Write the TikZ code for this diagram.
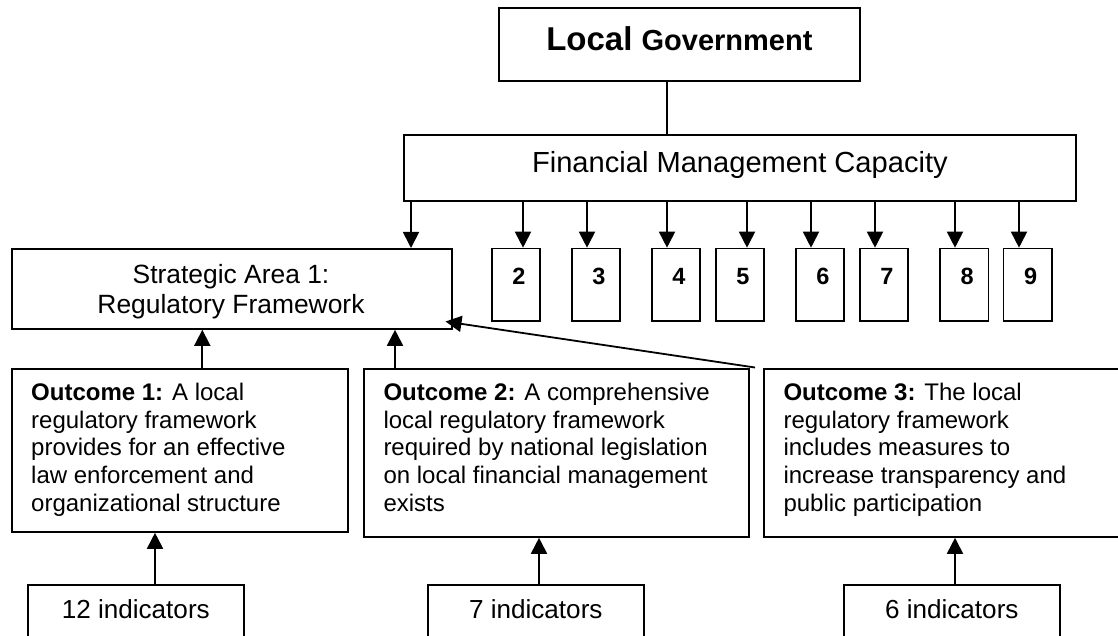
\documentclass[tikz,border=0pt]{standalone}
\usepackage{fontspec}
\setmainfont{Liberation Sans}
\usetikzlibrary{arrows.meta}
\begin{document}
\begin{tikzpicture}[x=1pt,y=-1pt,
  box/.style={draw, line width=1.8pt, inner sep=0pt, anchor=north west},
  conn/.style={line width=1.8pt},
  arr/.style={line width=1.8pt, -{Triangle[length=16pt,width=16pt]}},
  numbox/.style={box, minimum width=48.6pt, minimum height=72.3pt,
    text height=36.15pt, text depth=36.15pt,
    font=\fontsize{23.5}{27}\selectfont\bfseries},
  indbox/.style={box, minimum width=216.4pt, minimum height=70pt,
    text height=34pt, text depth=36pt, font=\fontsize{26.1}{30}\selectfont},
  txt/.style={inner sep=0pt}
]
\useasboundingbox (0,0) rectangle (1118,636);
\clip (0,0) rectangle (1118,636);

% top boxes
\node[box, minimum width=361pt, minimum height=73pt, text height=43pt, text depth=30pt, font=\bfseries]
  (lg) at (498,7) {\fontsize{33}{38}\selectfont Local \fontsize{29}{33}\selectfont Government};
\node[box, minimum width=672pt, minimum height=66pt, text height=38pt, text depth=28pt, font=\fontsize{29.1}{33}\selectfont]
  (fin) at (403,134) {Financial Management Capacity};

% strategic area
\node[box, minimum width=440pt, minimum height=80pt] (sa) at (11,248) {};
\node[txt, anchor=base] (satext) at (231,283)
  {\parbox[t]{420pt}{\centering\fontsize{26.4}{30.4}\selectfont Strategic Area 1:\\Regulatory Framework}};

% numbered boxes
\node[numbox] (b2) at (490.7,247.7) {\hspace*{6pt}2};
\node[numbox] (b3) at (570.7,247.7) {\hspace*{6pt}3};
\node[numbox] (b4) at (650.7,247.7) {\hspace*{6pt}4};
\node[numbox] (b5) at (714.7,247.7) {\hspace*{6pt}5};
\node[numbox] (b6) at (794.7,247.7) {\hspace*{6pt}6};
\node[numbox] (b7) at (858.7,247.7) {\hspace*{6pt}7};
\node[numbox] (b8) at (939,247.7) {\hspace*{6pt}8};
\node[numbox] (b9) at (1002.5,247.7) {\hspace*{6pt}9};

% outcome boxes
\node[box, minimum width=336pt, minimum height=163pt] (o1) at (11,368) {};
\node[box, minimum width=385pt, minimum height=168pt] (o2) at (362.7,368) {};
\node[box, minimum width=380pt, minimum height=168pt] (o3) at (762.7,368) {};

\node[txt, anchor=base west] (o1text) at (31,400.7)
  {\parbox[t]{400pt}{\raggedright\fontsize{24}{27.6}\selectfont
   \textbf{Outcome 1:} A local\\regulatory framework\\provides for an effective\\law enforcement and\\organizational structure}};
\node[txt, anchor=base west] (o2text) at (383.3,400.7)
  {\parbox[t]{420pt}{\raggedright\fontsize{24}{27.6}\selectfont
   \textbf{Outcome 2:} A comprehensive\\local regulatory framework\\required by national legislation\\on local financial management\\exists}};
\node[txt, anchor=base west] (o3text) at (783.3,400.7)
  {\parbox[t]{400pt}{\raggedright\fontsize{24}{27.6}\selectfont
   \textbf{Outcome 3:} The local\\regulatory framework\\includes measures to\\increase transparency and\\public participation}};

% indicator boxes
\node[indbox] (i1) at (26.7,584) {12 indicators};
\node[indbox] (i2) at (426.7,584) {7 indicators};
\node[indbox] (i3) at (842.7,584) {6 indicators};

% connector x positions
\coordinate (c0) at (667,0);
\coordinate (a1) at (411,0);
\coordinate (a2) at (523,0);
\coordinate (a3) at (587,0);
\coordinate (a4) at (667,0);
\coordinate (a5) at (747,0);
\coordinate (a6) at (811,0);
\coordinate (a7) at (875,0);
\coordinate (a8) at (955,0);
\coordinate (a9) at (1019,0);
\coordinate (u1) at (202.3,0);
\coordinate (u2) at (395,0);
\coordinate (v1) at (155,0);
\coordinate (v2) at (539,0);
\coordinate (v3) at (955,0);
\coordinate (dstart) at (755,367.5);
\coordinate (dend) at (445.5,321.5);

\draw[conn] (lg.south -| c0) -- (fin.north -| c0);
\draw[arr] (fin.south -| a1) -- (sa.north -| a1);
\draw[arr] (fin.south -| a2) -- (b2.north -| a2);
\draw[arr] (fin.south -| a3) -- (b3.north -| a3);
\draw[arr] (fin.south -| a4) -- (b4.north -| a4);
\draw[arr] (fin.south -| a5) -- (b5.north -| a5);
\draw[arr] (fin.south -| a6) -- (b6.north -| a6);
\draw[arr] (fin.south -| a7) -- (b7.north -| a7);
\draw[arr] (fin.south -| a8) -- (b8.north -| a8);
\draw[arr] (fin.south -| a9) -- (b9.north -| a9);

\draw[arr] (o1.north -| u1) -- (sa.south -| u1);
\draw[arr] (o2.north -| u2) -- (sa.south -| u2);
\draw[arr] (dstart) -- (dend);

\draw[arr] (i1.north -| v1) -- (o1.south -| v1);
\draw[arr] (i2.north -| v2) -- (o2.south -| v2);
\draw[arr] (i3.north -| v3) -- (o3.south -| v3);
\end{tikzpicture}
\end{document}
